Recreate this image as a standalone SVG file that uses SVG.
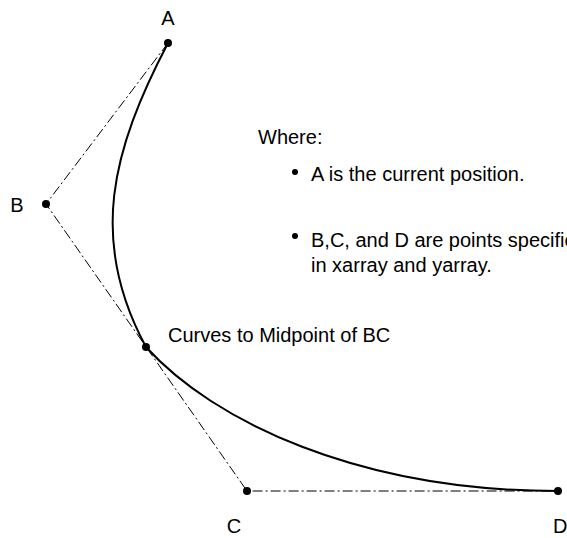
<svg xmlns="http://www.w3.org/2000/svg" width="567" height="538" viewBox="0 0 567 538">
<style>
.guide{fill:none;stroke:#000;stroke-width:1;stroke-dasharray:10 3 2 3}
.curve{fill:none;stroke:#000;stroke-width:2}
.pt{fill:#000}
.lbl{font-family:"Liberation Sans",Arial,sans-serif;font-size:20px;fill:#000}
</style>
<rect width="567" height="538" fill="#fff"/>
<g id="connectors">
<path class="guide" d="M168,43 L46,204 L247,491 L558,491"/>
<path class="curve" d="M168,43 C112,150 88,240 146,347 C213,421 358,491 558,491"/>
</g>
<g id="A"><circle class="pt" cx="168" cy="43" r="4"/><text class="lbl" x="168" y="25" text-anchor="middle">A</text></g>
<g id="B"><circle class="pt" cx="46" cy="204" r="4"/><text class="lbl" x="17" y="212" text-anchor="middle">B</text></g>
<g id="C"><circle class="pt" cx="247" cy="491" r="4"/><text class="lbl" x="234" y="533" text-anchor="middle">C</text></g>
<g id="D"><circle class="pt" cx="558" cy="491" r="4"/><text class="lbl" x="553" y="533">D</text></g>
<g id="M"><circle class="pt" cx="146" cy="347" r="4"/><text class="lbl" x="168" y="342">Curves to Midpoint of BC</text></g>
<g id="legend">
<text class="lbl" x="258" y="144">Where:</text>
<circle class="pt" cx="295" cy="172" r="3"/>
<text class="lbl" x="311" y="181">A is the current position.</text>
<circle class="pt" cx="295" cy="236" r="3"/>
<text class="lbl" x="311" y="247">B,C, and D are points specified</text>
<text class="lbl" x="311" y="272">in xarray and yarray.</text>
</g>
</svg>
